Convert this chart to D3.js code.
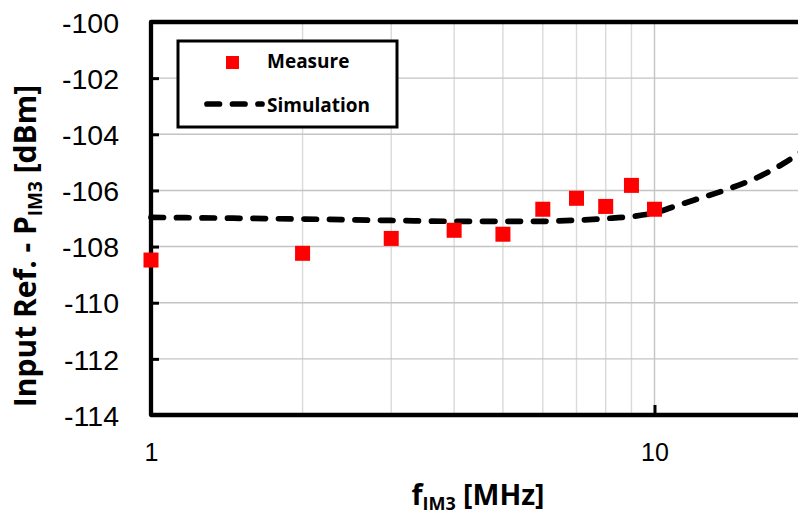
<!DOCTYPE html>
<html>
<head>
<meta charset="utf-8">
<script src="https://cdn.jsdelivr.net/npm/d3@7"></script>
<style>
body { margin: 0; background: #fff; }
svg { display: block; }
</style>
</head>
<body>
<div id="chart"></div>
<script>
// dados
var measFreq = [1, 2, 3, 4, 5, 6, 7, 8, 9, 10];
var measVal = [-108.48, -108.24, -107.71, -107.42, -107.56, -106.67, -106.28, -106.57, -105.82, -106.67];

var simFreq = [1, 2, 3, 4, 5, 6, 7, 8, 9, 10, 11, 12, 14, 16, 18, 20];
var simVal = [-106.96, -107.02, -107.07, -107.1, -107.1, -107.1, -107.06, -107.0, -106.93, -106.8, -106.56, -106.34, -105.95, -105.54, -105.05, -104.5];

var yTicks = [-100, -102, -104, -106, -108, -110, -112, -114];
var xTicks = [1, 10];
var xMinor = [2, 3, 4, 5, 6, 7, 8, 9, 20];

var width = 798;
var height = 516;
var plotLeft = 151, plotTop = 22, plotBottom = 415;

var svg = d3.select("#chart")
.append("svg")
.attr("width", width)
.attr("height", height);

// escalas
var x = d3.scaleLog().domain([1, 10]).range([plotLeft, 654.5]);
var y = d3.scaleLinear().domain([-114, -100]).range([plotBottom, plotTop]);
var plotRight = x(100);

// grelha vertical
svg.append("g").selectAll("line")
.data(xMinor.concat(xTicks.slice(1)))
.enter()
.append("line")
.attr("x1", d => x(d)).attr("x2", d => x(d))
.attr("y1", plotTop).attr("y2", plotBottom)
.attr("stroke", d => d === 10 ? "#c4c4c4" : "#dadada")
.attr("stroke-width", 1.4);

// grelha horizontal
svg.append("g").selectAll("line")
.data(yTicks.slice(1, -1))
.enter()
.append("line")
.attr("x1", plotLeft).attr("x2", plotRight)
.attr("y1", d => y(d)).attr("y2", d => y(d))
.attr("stroke", "#c4c4c4")
.attr("stroke-width", 1.4);

// eixos com marcas para dentro
var yAxis = d3.axisLeft(y).tickValues(yTicks).tickSize(-8).tickFormat(d => String(d));
var gy = svg.append("g").attr("transform", "translate(" + plotLeft + ",0)").call(yAxis);
gy.select(".domain").remove();
gy.selectAll(".tick line").attr("stroke", "#000").attr("stroke-width", 3);
gy.selectAll(".tick text")
.attr("font-family", "'Liberation Sans', Arial, sans-serif")
.attr("font-size", 28.5)
.attr("fill", "#000")
.attr("x", 119 - plotLeft)
.attr("dy", "0.36em");

var xAxis = d3.axisBottom(x).tickValues(xTicks).tickSize(-10).tickFormat(d => String(d));
var gx = svg.append("g").attr("transform", "translate(0," + plotBottom + ")").call(xAxis);
gx.select(".domain").remove();
gx.selectAll(".tick line").attr("stroke", "#000").attr("stroke-width", 3);
gx.selectAll(".tick text")
.attr("font-family", "'Liberation Sans', Arial, sans-serif")
.attr("font-size", 25)
.attr("fill", "#000")
.attr("y", 46)
.attr("dy", 0);

// moldura da área do gráfico
svg.append("path")
.attr("d", "M" + plotRight + "," + plotTop + "H" + plotLeft + "V" + plotBottom + "H" + plotRight)
.attr("fill", "none")
.attr("stroke", "#000")
.attr("stroke-width", 4.3)
.attr("stroke-linejoin", "round");

// simulação
var simData = simFreq.map((f, i) => ({ f: f, v: simVal[i] }));
var line = d3.line()
.x(d => x(d.f))
.y(d => y(d.v))
.curve(d3.curveMonotoneX);

svg.append("path")
.attr("d", line(simData))
.attr("fill", "none")
.attr("stroke", "#000")
.attr("stroke-width", 5.7)
.attr("stroke-dasharray", "12.5,13")
.attr("stroke-linecap", "round");

// medidas
var ms = 15;
svg.append("g").selectAll("rect")
.data(measFreq)
.enter()
.append("rect")
.attr("x", d => x(d) - ms / 2)
.attr("y", (d, i) => y(measVal[i]) - ms / 2)
.attr("width", ms)
.attr("height", ms)
.attr("fill", "#ff0000");

// legenda
var lg = svg.append("g");
lg.append("rect")
.attr("x", 178).attr("y", 41)
.attr("width", 219).attr("height", 86)
.attr("fill", "#fff")
.attr("stroke", "#000")
.attr("stroke-width", 3);
lg.append("rect")
.attr("x", 226).attr("y", 56)
.attr("width", 13).attr("height", 13)
.attr("fill", "#ff0000");
lg.append("line")
.attr("x1", 207).attr("x2", 262)
.attr("y1", 104).attr("y2", 104)
.attr("stroke", "#000")
.attr("stroke-width", 5.7)
.attr("stroke-dasharray", "12.5,13")
.attr("stroke-linecap", "round");
lg.append("text")
.attr("x", 267).attr("y", 68)
.attr("font-family", "'Open Sans', sans-serif")
.attr("font-weight", "bold")
.attr("font-size", 19)
.text("Measure");
lg.append("text")
.attr("x", 267).attr("y", 112)
.attr("font-family", "'Open Sans', sans-serif")
.attr("font-weight", "bold")
.attr("font-size", 19)
.text("Simulation");

// títulos dos eixos
var xt = svg.append("text")
.attr("x", 478).attr("y", 505)
.attr("text-anchor", "middle")
.attr("font-family", "'Open Sans', sans-serif")
.attr("font-weight", "bold")
.attr("font-size", 28.5);
xt.append("tspan").text("f");
xt.append("tspan").attr("font-size", 18).attr("dy", 5).text("IM3");
xt.append("tspan").attr("dy", -5).text(" [MHz]");

var yt = svg.append("text")
.attr("transform", "translate(36,246) rotate(-90)")
.attr("text-anchor", "middle")
.attr("font-family", "'Open Sans', sans-serif")
.attr("font-weight", "bold")
.attr("font-size", 30);
yt.append("tspan").text("Input Ref. - P");
yt.append("tspan").attr("font-size", 19).attr("dy", 6).text("IM3");
yt.append("tspan").attr("dy", -6).text(" [dBm]");
</script>
</body>
</html>
